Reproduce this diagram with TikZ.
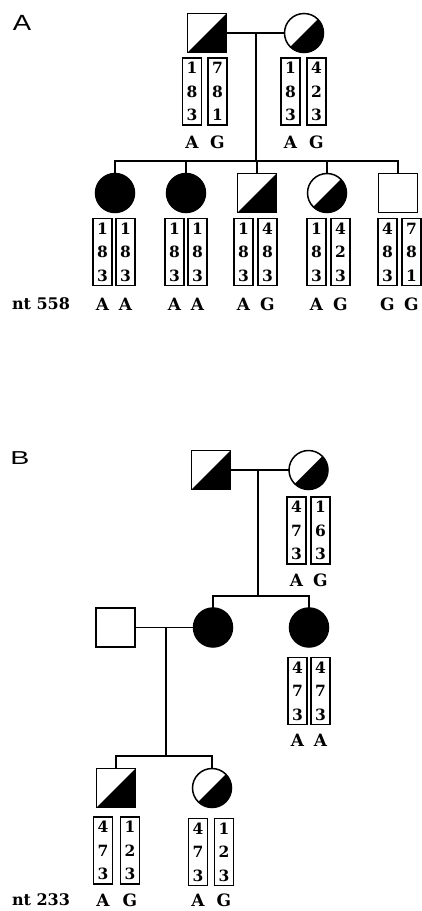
\documentclass[tikz,border=0pt]{standalone}
\usepackage{fontspec}
\newfontfamily\slab{DejaVu Serif}
\newfontfamily\panelfont{Liberation Sans}
\tikzset{
  person/.style={draw, line width=1.5pt, minimum size=39pt, inner sep=0pt, outer sep=0pt},
  male/.style={person, rectangle},
  female/.style={person, circle},
  affected/.style={fill=black},
  carrier/.style={path picture={\fill (path picture bounding box.south west) -- (path picture bounding box.north east) -- (path picture bounding box.south east) -- cycle;}},
  link/.style={line width=1.5pt},
  hap/.style={draw, line width=1.2pt, minimum width=19pt, minimum height=67pt, inner sep=0pt, align=center, font=\slab\bfseries\fontsize{15.5}{23.5}\selectfont},
  allele/.style={inner sep=0pt, font=\slab\bfseries\fontsize{17}{20}\selectfont},
  ntlabel/.style={inner sep=0pt, font=\slab\bfseries\fontsize{16}{20}\selectfont},
  panel/.style={inner sep=0pt, font=\panelfont\fontsize{22}{24}\selectfont}
}
\newcommand\geno[9]{%
  \node[hap] (#1l) at (#2,#4) {#5};
  \node[hap] (#1r) at (#3,#4) {#6};
  \node[allele] (#1a) at (#2,#9) {#7};
  \node[allele] (#1b) at (#3,#9) {#8};
}
\begin{document}
\begin{tikzpicture}[x=1pt,y=-1pt]
\useasboundingbox[fill=white] (0,0) rectangle (422,911);
% ---------- Panel A ----------
\node[panel] (labA) at (22,23) {\scalebox{1.25}[1]{A}};
\node[male, carrier] (fA) at (207,33) {};
\node[female, carrier] (mA) at (304,33) {};
\draw[link] (fA.east) -- (mA.west);
\coordinate (dA) at (256,33);
\coordinate (sA) at (256,161);
\draw[link] (dA) -- (sA);
\geno{gfA}{192}{217.5}{91.5}{1\\8\\3}{7\\8\\1}{A}{G}{142}
\geno{gmA}{290.5}{316.5}{91.5}{1\\8\\3}{4\\2\\3}{A}{G}{142}

\node[female, affected] (c1) at (115,193) {};
\node[female, affected] (c2) at (186,193) {};
\node[male, carrier] (c3) at (257,193) {};
\node[female, carrier] (c4) at (327,193) {};
\node[male] (c5) at (398,193) {};
\draw[link] (c1.north) -- (c1.north |- sA) -- (c5.north |- sA) -- (c5.north);
\draw[link] (c2.north) -- (c2.north |- sA);
\draw[link] (c3.north) -- (c3.north |- sA);
\draw[link] (c4.north) -- (c4.north |- sA);

\geno{gc1}{102.5}{125.5}{252}{1\\8\\3}{1\\8\\3}{A}{A}{304}
\geno{gc2}{174.5}{197.5}{252}{1\\8\\3}{1\\8\\3}{A}{A}{304}
\geno{gc3}{243.5}{267.5}{252}{1\\8\\3}{4\\8\\3}{A}{G}{304}
\geno{gc4}{316.5}{340.5}{252}{1\\8\\3}{4\\2\\3}{A}{G}{304}
\geno{gc5}{387.5}{411.5}{252}{4\\8\\3}{7\\8\\1}{G}{G}{304}
\node[ntlabel] (ntA) at (41,304) {nt 558};

% ---------- Panel B ----------
\node[panel] (labB) at (20,458) {\scalebox{1.3}[0.85]{B}};
\node[male, carrier] (fB) at (211,470) {};
\node[female, carrier] (mB) at (308.5,470) {};
\draw[link] (fB.east) -- (mB.west);
\coordinate (dB) at (258,470);
\coordinate (sB) at (258,596);
\draw[link] (dB) -- (sB);
\geno{gmB}{296.5}{320.5}{530.5}{4\\7\\3}{1\\6\\3}{A}{G}{580}

\node[male] (hB) at (115.5,627.5) {};
\node[female, affected] (d1) at (213,627.5) {};
\node[female, affected] (d2) at (309,627.5) {};
\draw[link] (d1.north) -- (d1.north |- sB) -- (d2.north |- sB) -- (d2.north);
\draw[link] (hB.east) -- (d1.west);
\coordinate (dB2) at (166,627.5);
\coordinate (sB2) at (166,756);
\draw[link] (dB2) -- (sB2);
\geno{gd2}{297.5}{320.5}{691}{4\\7\\3}{4\\7\\3}{A}{A}{740}

\node[male, carrier] (g1) at (116,788) {};
\node[female, carrier] (g2) at (212,788) {};
\draw[link] (g1.north) -- (g1.north |- sB2) -- (g2.north |- sB2) -- (g2.north);
\geno{gg1}{103}{130}{850.5}{4\\7\\3}{1\\2\\3}{A}{G}{900}
\geno{gg2}{198}{224}{852}{4\\7\\3}{1\\2\\3}{A}{G}{900}
\node[ntlabel] (ntB) at (41,900) {nt 233};
\end{tikzpicture}
\end{document}
